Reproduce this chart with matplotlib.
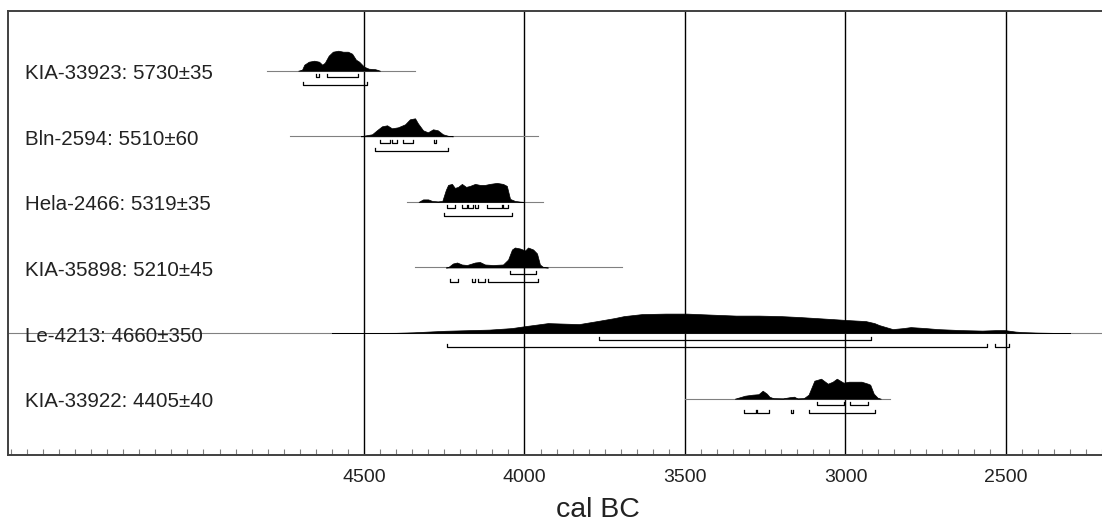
import numpy as np
import matplotlib
matplotlib.use("Agg")
import matplotlib.pyplot as plt
from matplotlib.ticker import MultipleLocator
from matplotlib.transforms import blended_transform_factory

plt.rcParams['font.family'] = ['Liberation Sans', 'DejaVu Sans']

# --- data (years cal BC, probability in pixel-ish units) ---
labels = ["KIA-33923: 5730±35", "Bln-2594: 5510±60", "Hela-2466: 5319±35",
          "KIA-35898: 5210±45", "Le-4213: 4660±350", "KIA-33922: 4405±40"]

yrs_kia33923 = [4705, 4693, 4686, 4672, 4655, 4640, 4630, 4622, 4610, 4597,
                4580, 4565, 4550, 4537, 4525, 4515, 4500, 4485, 4465, 4450]
prob_kia33923 = [0, 1, 6, 9, 10, 9, 6, 8, 15, 19,
                 20, 19, 19, 17, 11, 9, 4, 2, 1.5, 0]

yrs_bln2594 = [4510, 4503, 4475, 4460, 4444, 4428, 4413, 4394, 4372, 4357,
               4341, 4332, 4316, 4301, 4285, 4270, 4254, 4238, 4223]
prob_bln2594 = [0, 0.5, 2, 6, 10, 11, 8, 9, 12, 17,
                18, 13, 6, 4, 7, 6, 2, 0.5, 0]

yrs_hela2466 = [4330, 4316, 4300, 4288, 4270, 4256, 4245, 4238, 4226, 4217,
                4207, 4195, 4182, 4170, 4154, 4139, 4123, 4108, 4086, 4067,
                4055, 4045, 4030, 4014, 4000]
prob_hela2466 = [0, 2.5, 2.5, 1, 0.5, 1, 12, 17, 18, 14,
                 15, 18, 15, 16, 18, 17, 17, 18, 19, 18,
                 16, 3, 1, 0.3, 0]

yrs_kia35898 = [4245, 4238, 4223, 4210, 4195, 4179, 4154, 4139, 4123, 4098,
                4067, 4051, 4039, 4030, 4014, 3998, 3989, 3973, 3961, 3952,
                3942, 3927]
prob_kia35898 = [0, 0.3, 4, 5, 3, 2.5, 5, 5.5, 3, 2.5,
                 3, 8, 18, 20, 19, 17, 20, 18, 14, 3,
                 0.5, 0]

yrs_le4213 = [4600, 4400, 4346, 4248, 4109, 4040, 3997, 3950, 3927, 3880,
              3830, 3774, 3720, 3690, 3634, 3560, 3495, 3420, 3341, 3270,
              3202, 3140, 3090, 3040, 2992, 2937, 2910, 2895, 2853, 2820,
              2797, 2750, 2713, 2640, 2574, 2530, 2504, 2470, 2448, 2400,
              2364, 2300]
prob_le4213 = [0, 0.3, 0.8, 2.3, 3.5, 5, 7, 9, 10, 9.5,
               9, 12, 15, 17, 19, 19.5, 19.5, 18.5, 17.5, 17.5,
               17, 16, 15, 14, 13, 12, 10, 8, 4, 5,
               6, 5, 4, 3, 2.5, 3, 3, 1.5, 1, 0.5,
               0.3, 0]

yrs_kia33922 = [3345, 3334, 3313, 3290, 3271, 3258, 3245, 3237, 3225, 3195,
                3174, 3160, 3150, 3130, 3115, 3097, 3076, 3055, 3040, 3027,
                3006, 2990, 2978, 2950, 2930, 2923, 2912, 2900, 2890]
prob_kia33922 = [0, 1, 3, 4, 4.5, 8, 5, 2, 0.5, 0.3,
                 1.5, 2, 0.3, 0.5, 4, 18, 20, 15, 17, 20,
                 16, 17, 17, 17, 15, 14, 5, 1, 0]

# baseline extent of each calibrated curve
line_start = [4802, 4731, 4366, 4341, 5609, 3500]
line_end = [4341, 3958, 3942, 3696, 1933, 2860]

# 68.2% and 95.4% ranges
ranges_68 = [[(4650, 4640), (4616, 4518)],
             [(4450, 4419), (4413, 4397), (4379, 4347), (4282, 4276)],
             [(4240, 4217), (4195, 4179), (4176, 4160), (4154, 4145), (4117, 4070), (4067, 4051)],
             [(4045, 3965)],
             [(3767, 2920)],
             [(3090, 3006), (2985, 2930)]]
ranges_95 = [[(4690, 4492)],
             [(4466, 4238)],
             [(4250, 4039)],
             [(4232, 4207), (4164, 4154), (4145, 4123), (4114, 3958)],
             [(4241, 2560), (2535, 2490)],
             [(3316, 3280), (3275, 3237), (3170, 3165), (3115, 2909)]]

years = [yrs_kia33923, yrs_bln2594, yrs_hela2466, yrs_kia35898, yrs_le4213, yrs_kia33922]
probs = [prob_kia33923, prob_bln2594, prob_hela2466, prob_kia35898, prob_le4213, prob_kia33922]

major_ticks = [4500, 4000, 3500, 3000, 2500]

# --- plot ---
fig = plt.figure(figsize=(11.02, 5.23), dpi=100)
ax = fig.add_axes([8 / 1102, 68 / 523, 1180 / 1102, 444 / 523])

px = 1 / 65.6  # one pixel in row units
for i in range(len(labels)):
    base = -i
    ax.plot([line_start[i], line_end[i]], [base, base], color='0.5', lw=0.8, zorder=2)
    h = np.array(probs[i]) * px
    ax.fill_between(years[i], base, base + h, color='black', lw=0.5, zorder=3)
    for a, b in ranges_68[i]:
        y = base - 6.6 * px
        ax.plot([a, a, b, b], [y + 3 * px, y, y, y + 3 * px], color='black', lw=0.9, zorder=3)
    for a, b in ranges_95[i]:
        y = base - 14.3 * px
        ax.plot([a, a, b, b], [y + 3 * px, y, y, y + 3 * px], color='black', lw=0.9, zorder=3)

trans = blended_transform_factory(ax.transAxes, ax.transData)
for i, lab in enumerate(labels):
    ax.text(17 / 1180, -i - 8.6 * px, lab, transform=trans, fontsize=14.8,
            color='#222222', va='baseline', ha='left', zorder=4)

for yr in major_ticks:
    ax.axvline(yr, color='black', lw=1.0, zorder=1)

ax.set_xlim(5609, 1933)
ax.set_ylim(-(455 - 70.7) * px, (70.7 - 11) * px)
ax.set_yticks([])
ax.set_xticks(major_ticks)
ax.xaxis.set_minor_locator(MultipleLocator(50))
ax.tick_params(axis='x', which='major', length=0, pad=10, labelsize=14, labelcolor='#222222')
ax.tick_params(axis='x', which='minor', direction='in', length=4, color='0.5', width=0.8)
for s in ax.spines.values():
    s.set_linewidth(1.4)
    s.set_color('0.25')

ax.set_xlabel("cal BC", fontsize=20.5, color='#222222', va='baseline')
ax.xaxis.set_label_coords(0.5, (455 - 517) / 444)

fig.savefig("out.png", dpi=100)
